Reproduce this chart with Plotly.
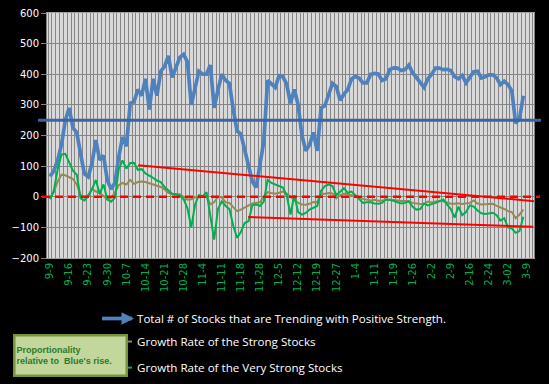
import plotly.graph_objects as go

# ---- data ----
week_labels = ["9-9", "9-16", "9-23", "9-30", "10-7", "10-14", "10-21", "10-28", "11-4",
               "11-11", "11-18", "11-28", "12-5", "12-12", "12-19", "12-27", "1-4", "1-11",
               "1-19", "1-26", "2-2", "2-9", "2-16", "2-24", "3-02", "3-9"]

total_trending = [66, 85, 120, 170, 250, 290, 225, 210, 140, 75, 65, 110, 185, 120, 135, 55, 25, 45,
                  130, 195, 165, 305, 310, 350, 330, 385, 285, 385, 330, 410, 425, 460, 390, 420, 455,
                  465, 440, 300, 355, 410, 400, 400, 430, 290, 350, 400, 380, 370, 285, 215, 205, 150,
                  106, 50, 30, 100, 180, 380, 368, 357, 395, 392, 368, 305, 350, 300, 200, 150, 170,
                  210, 150, 290, 297, 330, 370, 360, 315, 335, 350, 385, 393, 387, 372, 372, 400, 403,
                  401, 380, 385, 415, 421, 420, 412, 415, 430, 405, 390, 372, 357, 385, 400, 420, 420,
                  415, 416, 412, 392, 385, 396, 372, 390, 408, 410, 388, 392, 398, 398, 388, 366, 377,
                  366, 345, 240, 255, 330]

strong_growth = [-3, 15, 50, 72, 70, 64, 58, 40, 5, -2, 5, 25, 18, 10, 3, -10, -3, 13, 38, 45, 40,
                 55, 42, 48, 50, 48, 44, 41, 38, 32, 24, 13, 9, 8, 8, 0, -10, -8, -1, -2, -1, 2, -25,
                 -18, 0, -2, -18, -20, -34, -47, -42, -36, -28, -22, -20, -18, 0, 15, 12, 10, 13, 17,
                 10, 0, -12, -20, -25, -26, -23, -17, -18, 8, 10, 12, 11, -5, 5, 10, 8, 5, 3, -1, -7,
                 -10, -12, -10, -13, -13, -9, -9, -11, -13, -14, -14, -15, -20, -23, -24, -23, -16,
                 -19, -15, -13, -15, -20, -23, -23, -21, -24, -22, -20, -12, -22, -25, -25, -24, -23,
                 -30, -34, -40, -47, -50, -70, -58, -42]

very_strong_growth = [-8, 20, 90, 138, 140, 111, 85, 72, -5, -12, 2, 25, 55, 10, 40, -8, -16, -3, 90,
                      119, 92, 110, 111, 88, 90, 76, 70, 62, 53, 48, 32, 20, 10, 8, 4, -8, -38, -100,
                      -25, 5, 2, 15, -60, -140, -40, -15, -30, -40, -95, -134, -115, -86, -80, -28,
                      -25, -30, -16, 55, 45, 40, 37, 30, 5, -58, 5, -50, -58, -53, -42, -36, -30, 19,
                      35, 40, 35, 5, 15, 28, 13, 17, 5, -8, -20, -18, -18, -22, -23, -20, -9, -11, -13,
                      -18, -22, -20, -15, -33, -42, -40, -22, -28, -25, -20, -15, -9, -25, -40, -68,
                      -32, -60, -50, -28, -32, -45, -54, -56, -53, -52, -60, -78, -70, -100, -104,
                      -118, -112, -65]

blue_level = 250
upper_trend = [(23.1, 103), (127.1, -15)]
lower_trend = [(51.9, -66), (126.6, -98)]

x_idx = list(range(len(total_trending)))
tick_idx = [5 * k for k in range(len(week_labels))]

# plot-area geometry in pixels (for paper-referenced decorations)
L, R, T, B = 47, 534, 13, 257.6
PW, PH = R - L, B - T


def px_x(px):
    return (px - L) / PW


def px_y(py):
    return (B - py) / PH


fig = go.Figure()
fig.add_trace(go.Scatter(x=x_idx, y=total_trending, mode="lines",
                         name="Total # of Stocks that are Trending with Positive Strength.",
                         line=dict(color="#4F81BD", width=3.7), legend="legend"))
fig.add_trace(go.Scatter(x=x_idx, y=strong_growth, mode="lines",
                         name="Growth Rate of the Strong Stocks",
                         line=dict(color="#948A54", width=2), legend="legend2"))
fig.add_trace(go.Scatter(x=x_idx, y=very_strong_growth, mode="lines",
                         name="Growth Rate of the Very Strong Stocks",
                         line=dict(color="#00B050", width=2), legend="legend3"))

shapes = [
    dict(type="line", xref="paper", yref="y", x0=px_x(38), x1=px_x(541), y0=blue_level, y1=blue_level,
         line=dict(color="#3C64A0", width=3), layer="above"),
    dict(type="line", xref="paper", yref="y", x0=px_x(42), x1=px_x(540), y0=0, y1=0,
         line=dict(color="#FF0000", width=2.5, dash="8px,5px"), layer="above"),
    dict(type="line", xref="x", yref="y", x0=upper_trend[0][0], y0=upper_trend[0][1],
         x1=upper_trend[1][0], y1=upper_trend[1][1], line=dict(color="#FF0000", width=2), layer="above"),
    dict(type="line", xref="x", yref="y", x0=lower_trend[0][0], y0=lower_trend[0][1],
         x1=lower_trend[1][0], y1=lower_trend[1][1], line=dict(color="#FF0000", width=2), layer="above"),
]

annotations = [
    dict(xref="paper", yref="paper", x=px_x(134), y=px_y(318), ax=-26, ay=0, showarrow=True,
         arrowhead=2, arrowsize=1, arrowwidth=2.5, arrowcolor="#4F81BD", text=""),
    dict(xref="paper", yref="paper", x=px_x(13), y=px_y(333),
         xanchor="left", yanchor="top", showarrow=False, align="left",
         text="<b>Proportionality<br>relative to  Blue's rise.</b>",
         font=dict(family="Liberation Sans", size=9, color="#2B7A2B"),
         bgcolor="#C3D69B", bordercolor="#77933C", borderwidth=2.5,
         width=108, height=36, borderpad=1),
]

legend_font = dict(family="Open Sans", size=11.6, color="white")


def legend_at(py):
    return dict(x=px_x(97), y=px_y(py), xanchor="left", yanchor="middle",
                bgcolor="rgba(0,0,0,0)", font=legend_font)


fig.update_layout(
    width=549, height=384,
    margin=dict(l=L, r=549 - R, t=T, b=384 - B, autoexpand=False),
    paper_bgcolor="black", plot_bgcolor="#D9D9D9",
    shapes=shapes, annotations=annotations,
    showlegend=True,
    legend=legend_at(318), legend2=legend_at(341), legend3=legend_at(367),
    xaxis=dict(range=[-0.8, 126.8], tickmode="array", tickvals=tick_idx, ticktext=week_labels,
               tickangle=-90, tickfont=dict(family="DejaVu Sans", size=10, color="#00B050"),
               showgrid=False, zeroline=False, showline=True, linecolor="#A0A0A0", mirror=True,
               ticks="",
               minor=dict(tickmode="linear", tick0=-0.5, dtick=1, showgrid=True,
                          gridcolor="#858585", gridwidth=1)),
    yaxis=dict(range=[-200, 600], dtick=100, showgrid=True, gridcolor="#858585", gridwidth=1.2,
               zeroline=False, showline=True, linecolor="#808080", mirror=True,
               ticks="outside", ticklen=5, tickcolor="#808080",
               tickfont=dict(family="DejaVu Sans", size=10, color="white")),
)

fig.write_html("out.html", config={"displayModeBar": False},
               post_script="document.body.style.margin='0';document.body.style.background='black';")
